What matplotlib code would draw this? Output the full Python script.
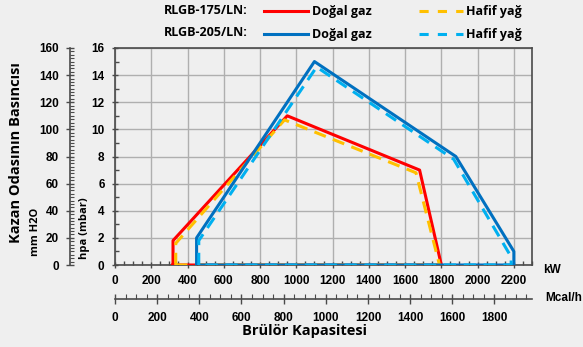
import matplotlib
matplotlib.use("Agg")
import matplotlib.pyplot as plt
from matplotlib.ticker import MultipleLocator
from matplotlib.lines import Line2D

# Burner working fields: capacity (kW) vs. combustion chamber pressure (mbar)
rlgb175_gas_kw = [320, 320, 950, 1680, 1800, 320]
rlgb175_gas_mbar = [0, 1.8, 11.0, 7.0, 0, 0]
rlgb175_oil_kw = [335, 335, 935, 1660, 1790, 335]
rlgb175_oil_mbar = [0, 1.6, 10.7, 6.8, 0, 0]
rlgb205_gas_kw = [450, 450, 1100, 1880, 2200, 2200, 450]
rlgb205_gas_mbar = [0, 2.0, 15.0, 8.0, 1.0, 0, 0]
rlgb205_oil_kw = [462, 462, 1112, 1868, 2185, 2185, 462]
rlgb205_oil_mbar = [0, 1.8, 14.6, 7.8, 0.6, 0, 0]

kw_ticks = list(range(0, 2201, 200))
mcal_ticks = list(range(0, 1801, 200))
mbar_ticks = list(range(0, 17, 2))
mmh2o_ticks = list(range(0, 161, 20))
KW_TO_MCAL = 0.86

RED = "#ff0000"
ORANGE = "#ffc000"
BLUE = "#0070c0"
LIGHTBLUE = "#00b0f0"
BG = "#efefef"
GRID = "#afafaf"
SPINE = "#4a4a4a"

W, H = 583, 347
fig = plt.figure(figsize=(W / 100, H / 100), dpi=100, facecolor=BG)

tick_font = dict(family=["Liberation Sans", "DejaVu Sans"], weight="bold", size=8.5)
text_font = ["Open Sans", "DejaVu Sans"]

left, right, top, bottom = 115, 532, 48, 265
rect = [left / W, 1 - bottom / H, (right - left) / W, (bottom - top) / H]

# Main axes: kW vs mbar
ax = fig.add_axes(rect)
ax.set_facecolor(BG)
ax.set_xlim(0, 2300)
ax.set_ylim(0, 16)
ax.grid(True, color=GRID, lw=1.0, zorder=0)
ax.set_axisbelow(True)
ax.set_xticks(kw_ticks)
ax.set_yticks(mbar_ticks)
ax.xaxis.set_minor_locator(MultipleLocator(50))
ax.yaxis.set_minor_locator(MultipleLocator(1))
ax.tick_params(which="major", direction="inout", length=5, width=1, color=SPINE, pad=5)
ax.tick_params(which="minor", direction="in", length=3, width=1, color=SPINE)
ax.tick_params(axis="y", pad=5)
for lab in ax.get_xticklabels() + ax.get_yticklabels():
    lab.set(**tick_font)
for s in ax.spines.values():
    s.set_color(SPINE)
    s.set_linewidth(1.2)

dash = (0, (4, 2.5))
ax.plot(rlgb175_gas_kw, rlgb175_gas_mbar, color=RED, lw=2.2, zorder=3)
ax.plot(rlgb175_oil_kw, rlgb175_oil_mbar, color=ORANGE, lw=2.2, ls=dash, zorder=3)
ax.plot(rlgb205_gas_kw, rlgb205_gas_mbar, color=BLUE, lw=2.2, zorder=4)
ax.plot(rlgb205_oil_kw, rlgb205_oil_mbar, color=LIGHTBLUE, lw=2.2, ls=dash, zorder=4)

# Second pressure scale in mm H2O
ax_mm = fig.add_axes(rect)
ax_mm.patch.set_visible(False)
ax_mm.set_ylim(0, 160)
ax_mm.set_yticks(mmh2o_ticks)
ax_mm.yaxis.set_minor_locator(MultipleLocator(2.5))
for k in ("top", "right", "bottom"):
    ax_mm.spines[k].set_visible(False)
ax_mm.spines["left"].set_position(("outward", 45 * 0.72))
ax_mm.spines["left"].set_color(SPINE)
ax_mm.spines["left"].set_linewidth(1.2)
ax_mm.xaxis.set_visible(False)
ax_mm.tick_params(which="major", direction="inout", length=6, width=1, color=SPINE, pad=5)
ax_mm.tick_params(which="minor", direction="in", length=3, width=0.8, color=SPINE)
for lab in ax_mm.get_yticklabels():
    lab.set(**tick_font)

# Second capacity scale in Mcal/h
ax_mc = fig.add_axes(rect)
ax_mc.patch.set_visible(False)
ax_mc.set_xlim(0, 2300 * KW_TO_MCAL)
ax_mc.set_xticks(mcal_ticks)
ax_mc.xaxis.set_minor_locator(MultipleLocator(50))
for k in ("top", "right", "left"):
    ax_mc.spines[k].set_visible(False)
ax_mc.spines["bottom"].set_position(("outward", 34 * 0.72))
ax_mc.spines["bottom"].set_color(SPINE)
ax_mc.spines["bottom"].set_linewidth(1.2)
ax_mc.yaxis.set_visible(False)
ax_mc.tick_params(which="major", direction="inout", length=7, width=1, color=SPINE, pad=6)
ax_mc.tick_params(which="minor", direction="in", length=3.5, width=0.8, color=SPINE)
for lab in ax_mc.get_xticklabels():
    lab.set(**tick_font)

def fx(px):
    return px / W

def fy(py):
    return 1 - py / H

fig.text(fx(543), fy(270), "kW", ha="left", va="center", **tick_font)
fig.text(fx(545), fy(298), "Mcal/h", ha="left", va="center",
         family=tick_font["family"], weight="bold", size=8.5)
fig.text(fx(305), fy(331), "Brülör Kapasitesi", ha="center", va="center",
         family=text_font, weight="bold", size=10.5)
fig.text(fx(16), fy(153), "Kazan Odasının Basıncısı", ha="center", va="center",
         rotation=90, family=text_font, weight="bold", size=10.5)
fig.text(fx(36), fy(232), "mm H2O", ha="center", va="center", rotation=90,
         family=text_font, weight="bold", size=8)
fig.text(fx(84), fy(228), "hpa (mbar)", ha="center", va="center", rotation=90,
         family=text_font, weight="bold", size=8)

# Legend block
fig.text(fx(248), fy(11), "RLGB-175/LN:", ha="right", va="center",
         family=text_font, weight="bold", size=9)
fig.text(fx(248), fy(33), "RLGB-205/LN:", ha="right", va="center",
         family=text_font, weight="bold", size=9)
handles = [
    Line2D([], [], color=RED, lw=2.2),
    Line2D([], [], color=BLUE, lw=2.2),
    Line2D([], [], color=ORANGE, lw=2.2, ls=(0, (3, 3))),
    Line2D([], [], color=LIGHTBLUE, lw=2.2, ls=(0, (3, 3))),
]
labels = ["Doğal gaz", "Doğal gaz", "Hafif yağ", "Hafif yağ"]
fig.legend(handles, labels, ncol=2, loc="upper left",
           bbox_to_anchor=(fx(264), fy(5)), frameon=False,
           prop=dict(family=text_font, weight="bold", size=9),
           handlelength=3.5, handletextpad=0.3, columnspacing=3.8,
           labelspacing=0.82, borderpad=0, borderaxespad=0)

fig.savefig("out.png", dpi=100, facecolor=BG)
